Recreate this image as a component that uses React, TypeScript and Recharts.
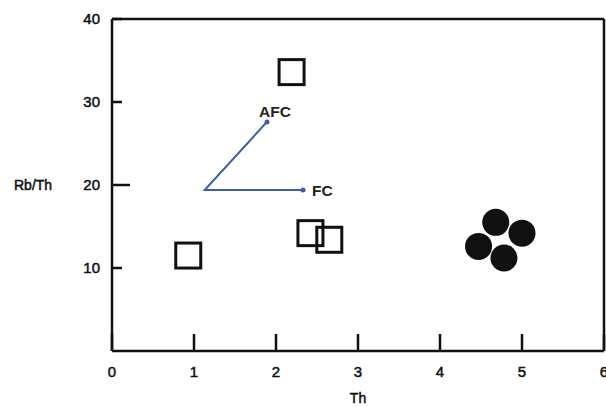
import { ScatterChart, Scatter, XAxis, YAxis } from 'recharts';

// Open squares and filled circles (Th vs Rb/Th)
const squares = [
  { x: 0.93, y: 11.5 },
  { x: 2.19, y: 33.6 },
  { x: 2.42, y: 14.2 },
  { x: 2.65, y: 13.4 },
];

const circles = [
  { x: 4.68, y: 15.5 },
  { x: 5.0, y: 14.2 },
  { x: 4.47, y: 12.6 },
  { x: 4.78, y: 11.2 },
];

// Trend vectors: AFC end -> common origin -> FC end
const trend = [
  { x: 1.89, y: 27.6, label: 'AFC' },
  { x: 1.13, y: 19.4, label: '' },
  { x: 2.33, y: 19.4, label: 'FC' },
];

const xTicks = [0, 1, 2, 3, 4, 5, 6];
const yTicks = [10, 20, 30, 40];
const longYTicks = [20];

const FONT = '"Liberation Sans", Arial, sans-serif';
const INK = '#111';
const BLUE = '#3d5ea6';

// slightly heavier axis text
const axisText = { fontSize: 15, fontFamily: FONT, fill: INK, stroke: INK, strokeWidth: 0.5 };

const LeftTick = (props: any) => {
  const { x, y, payload } = props;
  const len = longYTicks.includes(payload.value) ? 18 : 10;
  return (
    <g>
      <line x1={x + 12} x2={x + 12 + len} y1={y} y2={y} stroke={INK} strokeWidth={2.5} />
      <text x={x} y={y} dy="0.36em" textAnchor="end" {...axisText}>
        {payload.value}
      </text>
    </g>
  );
};

const RightTick = (props: any) => {
  const { x, y, payload } = props;
  const len = longYTicks.includes(payload.value) ? 18 : 10;
  return <line x1={x} x2={x - len} y1={y} y2={y} stroke={INK} strokeWidth={2.5} />;
};

const SquareMark = (props: any) => {
  const { cx, cy } = props;
  return <rect x={cx - 12.5} y={cy - 12.5} width={25} height={25} fill="none" stroke={INK} strokeWidth={3} />;
};

const DotMark = (props: any) => {
  const { cx, cy } = props;
  return <circle cx={cx} cy={cy} r={13.5} fill={INK} />;
};

const TrendMark = (props: any) => {
  const { cx, cy, payload } = props;
  if (!payload.label) return <g />;
  const isAfc = payload.label === 'AFC';
  return (
    <g>
      <circle cx={cx} cy={cy} r={2.5} fill={BLUE} />
      <text
        x={isAfc ? cx + 8 : cx + 9}
        y={isAfc ? cy - 5 : cy}
        dy={isAfc ? 0 : '0.36em'}
        textAnchor={isAfc ? 'middle' : 'start'}
        fontSize={15.5}
        fontWeight="bold"
        fontFamily={FONT}
        fill="#222"
      >
        {payload.label}
      </text>
    </g>
  );
};

export default function App() {
  return (
    <div style={{ position: 'absolute', left: 0, top: 0, width: 606, height: 407, background: '#fff' }}>
      <ScatterChart width={606} height={407} margin={{ top: 18, right: 1, bottom: 0, left: 0 }}>
        <XAxis
          type="number"
          dataKey="x"
          domain={[0, 6]}
          ticks={xTicks}
          interval={0}
          height={56}
          tickSize={-17}
          tickMargin={32}
          axisLine={{ stroke: INK, strokeWidth: 2.5 }}
          tickLine={{ stroke: INK, strokeWidth: 2.5 }}
          tick={axisText}
          label={{ value: 'Th', position: 'insideBottom', offset: 4, ...axisText, fontSize: 14 }}
        />
        <XAxis
          xAxisId="top"
          orientation="top"
          type="number"
          dataKey="x"
          domain={[0, 6]}
          ticks={xTicks}
          interval={0}
          height={1}
          tickSize={-17}
          tick={false}
          axisLine={{ stroke: INK, strokeWidth: 2.5 }}
          tickLine={{ stroke: INK, strokeWidth: 2.5 }}
        />
        <YAxis
          type="number"
          dataKey="y"
          domain={[0, 40]}
          ticks={yTicks}
          interval={0}
          width={112}
          tickSize={0}
          tickMargin={12}
          tickLine={false}
          axisLine={{ stroke: INK, strokeWidth: 2.5 }}
          tick={LeftTick}
          label={{ value: 'Rb/Th', position: 'insideLeft', offset: 14, ...axisText, fontSize: 14 }}
        />
        <YAxis
          yAxisId="right"
          orientation="right"
          type="number"
          dataKey="y"
          domain={[0, 40]}
          ticks={yTicks}
          interval={0}
          width={1}
          tickSize={0}
          tickMargin={0}
          tickLine={false}
          axisLine={{ stroke: INK, strokeWidth: 2.5 }}
          tick={RightTick}
        />
        <Scatter data={trend} line={{ stroke: BLUE, strokeWidth: 2 }} shape={TrendMark} isAnimationActive={false} />
        <Scatter data={squares} shape={SquareMark} isAnimationActive={false} />
        <Scatter data={circles} shape={DotMark} isAnimationActive={false} />
      </ScatterChart>
    </div>
  );
}
